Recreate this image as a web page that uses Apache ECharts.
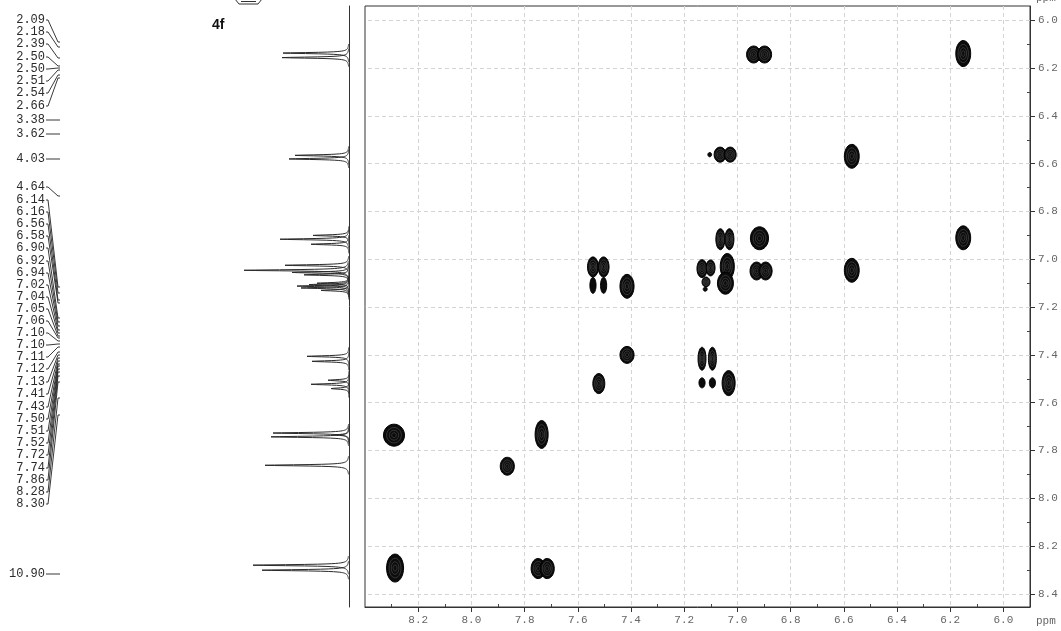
<!DOCTYPE html>
<html><head><meta charset="utf-8">
<script src="https://cdn.jsdelivr.net/npm/echarts@6/dist/echarts.min.js"></script>
<style>html,body{margin:0;padding:0;background:#fff}#c{width:1061px;height:631px}</style>
</head><body><div id="c"></div>
<script>
// ---- tick labels ----
const xTickLabels = ['6.0','6.2','6.4','6.6','6.8','7.0','7.2','7.4','7.6','7.8','8.0','8.2'];
const xMinorTicks = [6.1,6.3,6.5,6.7,6.9,7.1,7.3,7.5,7.7,7.9,8.1,8.3];
const yTickLabels = ['6.0','6.2','6.4','6.6','6.8','7.0','7.2','7.4','7.6','7.8','8.0','8.2','8.4'];
const yMinorTicks = [6.1,6.3,6.5,6.7,6.9,7.1,7.3,7.5,7.7,7.9,8.1,8.3];

// ---- 2D COSY contour lobes (F2 ppm, F1 ppm, width F2 ppm, width F1 ppm) ----
const peakF2 = [6.939,6.898,6.151,7.065,7.027,7.104,6.570,6.151,6.917,7.064,7.030,6.928,6.894,6.570,7.543,7.503,7.543,7.503,7.415,7.133,7.101,7.118,7.121,7.038,7.045,7.415,7.521,7.133,7.094,7.133,7.094,7.033,8.291,7.736,7.865,8.287,7.749,7.715];
const peakF1 = [6.143,6.143,6.139,6.562,6.562,6.562,6.569,6.910,6.912,6.916,6.916,7.049,7.049,7.046,7.032,7.032,7.109,7.109,7.113,7.039,7.036,7.095,7.125,7.030,7.100,7.400,7.520,7.416,7.416,7.517,7.517,7.518,7.736,7.733,7.866,8.292,8.294,8.294];
const peakWidthF2 = [0.053,0.053,0.056,0.045,0.045,0.014,0.056,0.056,0.068,0.034,0.034,0.049,0.049,0.056,0.041,0.041,0.023,0.023,0.053,0.038,0.034,0.030,0.015,0.053,0.060,0.053,0.045,0.030,0.030,0.023,0.023,0.049,0.079,0.049,0.053,0.064,0.053,0.053];
const peakWidthF1 = [0.071,0.071,0.109,0.063,0.063,0.018,0.100,0.100,0.096,0.088,0.088,0.075,0.075,0.100,0.084,0.084,0.067,0.067,0.100,0.075,0.067,0.042,0.017,0.109,0.092,0.071,0.084,0.096,0.096,0.042,0.042,0.105,0.092,0.117,0.075,0.117,0.084,0.084];

// ---- 1D projection (ppm, intensity) ----
const projPpm = [6.137,6.156,6.565,6.580,6.900,6.916,6.937,7.025,7.046,7.055,7.065,7.100,7.106,7.112,7.120,7.130,7.406,7.427,7.506,7.523,7.541,7.727,7.735,7.743,7.862,8.280,8.301];
const projInt = [66,67,54,60,36,69,38,64,105,57,45,32,40,52,48,28,42,37,21,38,18,76,14,78,84,96,87];

// ---- peak-pick list (text) ----
const pickLabels = ['2.09','2.18','2.39','2.50','2.50','2.51','2.54','2.66','3.38','3.62','4.03','4.64','6.14','6.16','6.56','6.58','6.90','6.92','6.94','7.02','7.04','7.05','7.06','7.10','7.10','7.11','7.12','7.13','7.41','7.43','7.50','7.51','7.52','7.72','7.74','7.86','8.28','8.30','10.90'];
const compoundLabel = '4f';

// layout only (pixel rows of the pick list and leader end points)
const pickRowY = [20,32,44,57,69,81,93,106,120,134,159,187,200,212,224,236,248,261,273,285,297,309,321,333,345,357,369,382,394,407,419,431,443,455,468,480,492,504,574];
const pickEndY = [42,47,58,66,68,70,75,78,120,134,159,196,287,293,300,303,318,322,326,330,333,336,338,341,344,347,352,355,358,361,364,366,369,372,376,382,398,415,574];

const X_MIN = 5.9, X_MAX = 8.4, Y_MIN = 5.94, Y_MAX = 8.455;
const xMajor = xTickLabels.map(parseFloat);
const yMajor = yTickLabels.map(parseFloat);

function ellipsePts(cx, cy, rx, ry, n) {
  const p = [];
  for (let i = 0; i < n; i++) { const a = 2 * Math.PI * i / n; p.push([cx + rx * Math.cos(a), cy + ry * Math.sin(a)]); }
  return p;
}
function render2D(params, api) {
  const x = api.value(0), y = api.value(1);
  const c = api.coord([x, y]);
  const s = api.size([api.value(2), api.value(3)], [x, y]);
  const rx = s[0] / 2, ry = s[1] / 2;
  const children = [{ type: 'polygon', shape: { points: ellipsePts(c[0], c[1], rx, ry, 36) }, style: { fill: '#0c0c0c', stroke: '#000', lineWidth: 1 } }];
  if (rx > 3.5) {
    [0.7, 0.45, 0.22].forEach(k => children.push({ type: 'polygon', shape: { points: ellipsePts(c[0], c[1], rx * k, ry * k, 28) }, style: { fill: null, stroke: '#5e5e5e', lineWidth: 0.5 } }));
  }
  return { type: 'group', children };
}
function renderProj(params, api) {
  const h = api.value(0), p = api.value(1);
  const b = api.coord([0, p]), t = api.coord([h, p]);
  const H = b[0] - t[0], g = 0.7, pts = [];
  for (let d = -9; d <= 9.001; d += 0.25) pts.push([b[0] - H / (1 + (d / g) * (d / g)), b[1] + d]);
  return { type: 'polyline', shape: { points: pts }, style: { stroke: '#2a2a2a', lineWidth: 1, fill: null } };
}

const monoFont = '"Liberation Mono", "DejaVu Sans Mono", monospace';
const graphics = [];
pickLabels.forEach((t, i) => {
  graphics.push({ type: 'text', x: 45, y: pickRowY[i], style: { text: t, fill: '#2a2a2a', font: '12px ' + monoFont, align: 'right', verticalAlign: 'middle' } });
  graphics.push({ type: 'polyline', shape: { points: [[46, pickRowY[i]], [48, pickRowY[i]], [58, pickEndY[i]], [60, pickEndY[i]]] }, style: { stroke: '#222', lineWidth: 0.9, fill: null } });
});
graphics.push({ type: 'text', x: 212, y: 25, style: { text: compoundLabel, fill: '#111', font: 'bold 14px "Liberation Sans", Arial, sans-serif', verticalAlign: 'middle' } });
graphics.push({ type: 'polyline', shape: { points: [[235, -1], [239, 4], [258, 4], [262, -1]] }, style: { stroke: '#333', lineWidth: 1, fill: null } });
graphics.push({ type: 'polyline', shape: { points: [[241, 1.5], [256, 1.5]] }, style: { stroke: '#333', lineWidth: 1, fill: null } });
graphics.push({ type: 'text', x: 1036, y: 621, style: { text: 'ppm', fill: '#666', font: '11px ' + monoFont, verticalAlign: 'middle' } });
graphics.push({ type: 'text', x: 1036, y: -2, style: { text: 'ppm', fill: '#666', font: '11px ' + monoFont, verticalAlign: 'middle' } });

const axisTextStyle = { color: '#666', fontFamily: monoFont, fontSize: 11 };
const chart = echarts.init(document.getElementById('c'), null, { renderer: 'canvas' });
chart.setOption({
  animation: false,
  backgroundColor: '#fff',
  grid: [
    { left: 365, top: 6, width: 665, height: 601, show: true, borderColor: '#333', borderWidth: 1, backgroundColor: 'transparent' },
    { left: 239, top: 6, width: 110, height: 601 }
  ],
  xAxis: [
    { gridIndex: 0, type: 'value', inverse: true, min: X_MIN, max: X_MAX, position: 'bottom',
      axisLine: { lineStyle: { color: '#333', width: 1 } },
      axisTick: { show: true, customValues: xMajor, length: 5, lineStyle: { color: '#333' } },
      axisLabel: { customValues: xMajor, formatter: v => v.toFixed(1), margin: 8, ...axisTextStyle },
      splitLine: { show: false } },
    { gridIndex: 0, type: 'value', inverse: true, min: X_MIN, max: X_MAX, position: 'bottom',
      axisLine: { show: false },
      axisTick: { show: true, customValues: xMinorTicks, length: 3, inside: true, lineStyle: { color: '#444' } },
      axisLabel: { show: false }, splitLine: { show: false } },
    { gridIndex: 1, type: 'value', inverse: true, min: 0, max: 110, show: false }
  ],
  yAxis: [
    { gridIndex: 0, type: 'value', inverse: true, min: Y_MIN, max: Y_MAX, position: 'right',
      axisLine: { show: true, lineStyle: { color: '#333', width: 1 } },
      axisTick: { show: true, customValues: yMajor, length: 5, lineStyle: { color: '#333' } },
      axisLabel: { customValues: yMajor, formatter: v => v.toFixed(1), margin: 8, ...axisTextStyle },
      splitLine: { show: false } },
    { gridIndex: 0, type: 'value', inverse: true, min: Y_MIN, max: Y_MAX, position: 'right',
      axisLine: { show: false },
      axisTick: { show: true, customValues: yMinorTicks, length: 3, inside: true, lineStyle: { color: '#444' } },
      axisLabel: { show: false }, splitLine: { show: false } },
    { gridIndex: 1, type: 'value', inverse: true, min: Y_MIN, max: Y_MAX, position: 'right',
      axisLine: { show: true, lineStyle: { color: '#333', width: 1 } },
      axisTick: { show: false }, axisLabel: { show: false }, splitLine: { show: false } }
  ],
  series: [
    { type: 'custom', name: 'COSY', xAxisIndex: 0, yAxisIndex: 0, z: 3,
      encode: { x: 0, y: 1 },
      data: peakF2.map((v, i) => [v, peakF1[i], peakWidthF2[i], peakWidthF1[i]]),
      renderItem: render2D,
      markLine: { silent: true, symbol: ['none', 'none'], z: 1, label: { show: false },
        lineStyle: { color: '#d4d4d4', type: [4, 3], width: 1 },
        data: xMajor.map(v => ({ xAxis: v })).concat(yMajor.map(v => ({ yAxis: v }))) } },
    { type: 'custom', name: 'projection', xAxisIndex: 2, yAxisIndex: 2, z: 3,
      encode: { x: 0, y: 1 },
      data: projPpm.map((p, i) => [projInt[i], p]),
      renderItem: renderProj }
  ],
  graphic: graphics
});
</script>
</body></html>
